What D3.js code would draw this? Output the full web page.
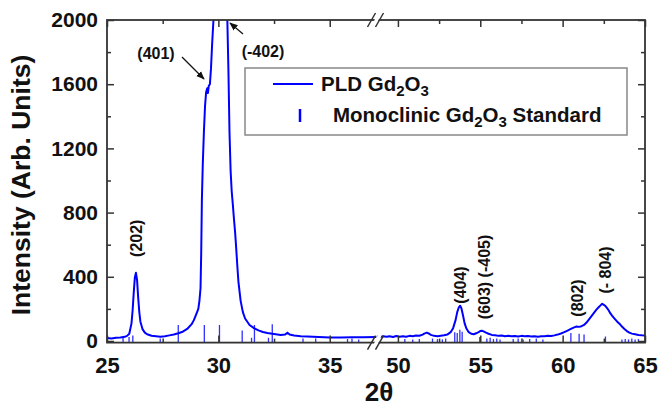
<!DOCTYPE html>
<html>
<head>
<meta charset="utf-8">
<script src="https://cdn.jsdelivr.net/npm/d3@7"></script>
<style>
  body { margin: 0; background: #fff; }
  text { font-family: "Liberation Sans", Arial, sans-serif; font-weight: bold; fill: #111; }
</style>
</head>
<body>
<div id="chart"></div>
<script>
// measured scan, left of the axis break: [2theta, counts]
var scanLeft = [
  [25.0,18],[25.2,15],[25.4,20],[25.6,22],[25.8,26],[25.9,32],[26.0,45],[26.1,110],[26.15,190],
  [26.2,300],[26.25,395],[26.3,425],[26.35,380],[26.4,270],[26.45,180],[26.5,120],[26.6,72],
  [26.7,52],[26.8,42],[27.0,33],[27.2,30],[27.4,27],[27.6,30],[27.8,35],[28.0,40],[28.2,48],
  [28.4,58],[28.6,75],[28.8,105],[28.9,130],[29.0,165],[29.1,200],[29.15,250],[29.2,330],
  [29.23,550],[29.26,880],[29.3,1100],[29.35,1300],[29.4,1460],[29.45,1550],[29.5,1575],
  [29.53,1545],[29.57,1590],[29.62,1600],[29.67,1700],[29.72,1850],[29.78,2000],[29.9,2300],
  [30.0,2500],[30.1,2550],[30.2,2450],[30.3,2250],[30.4,2020],[30.45,1700],[30.5,1300],
  [30.55,1060],[30.6,930],[30.65,850],[30.7,760],[30.75,680],[30.8,580],[30.85,470],[30.9,370],
  [31.0,250],[31.1,180],[31.2,140],[31.4,100],[31.6,80],[31.8,66],[32.0,56],[32.2,50],[32.5,44],
  [32.8,38],[33.0,40],[33.1,52],[33.2,40],[33.4,34],[33.7,30],[34.0,28],[34.5,25],[35.0,22],
  [35.5,22],[36.0,24],[36.5,23],[37.1,25]
];
// measured scan, right of the axis break
var scanRight = [
  [48.7,28],[48.9,24],[49.1,30],[49.3,26],[49.5,29],[49.7,25],[49.9,31],[50.1,27],[50.3,30],
  [50.5,26],[50.7,32],[50.9,29],[51.1,34],[51.3,33],[51.5,40],[51.6,46],[51.75,52],[51.9,45],
  [52.0,38],[52.2,32],[52.4,30],[52.6,33],[52.8,36],[53.0,40],[53.2,55],[53.35,80],[53.5,130],
  [53.6,180],[53.7,210],[53.78,220],[53.85,205],[53.95,160],[54.05,110],[54.15,80],[54.3,55],
  [54.45,45],[54.6,42],[54.75,48],[54.9,55],[55.0,62],[55.1,64],[55.2,60],[55.35,52],[55.5,45],
  [55.7,38],[55.9,36],[56.1,32],[56.3,34],[56.5,30],[56.7,33],[56.9,29],[57.1,31],[57.3,28],
  [57.5,32],[57.7,29],[57.9,31],[58.1,28],[58.3,30],[58.5,27],[58.7,30],[58.9,29],[59.1,32],
  [59.3,31],[59.5,35],[59.7,40],[59.9,47],[60.1,55],[60.3,65],[60.5,75],[60.7,85],[60.85,90],
  [61.0,88],[61.15,92],[61.3,100],[61.45,115],[61.6,135],[61.75,155],[61.9,175],[62.05,195],
  [62.2,212],[62.3,222],[62.4,232],[62.5,225],[62.6,218],[62.7,205],[62.8,190],[62.9,172],
  [63.0,158],[63.15,140],[63.3,122],[63.45,108],[63.6,90],[63.75,75],[63.9,62],[64.05,52],
  [64.2,46],[64.4,42],[64.6,38],[64.8,36],[65.0,35]
];
// monoclinic Gd2O3 reference lines: [2theta, relative height]
var standardLines = [
  [25.72,20],[25.99,25],[26.16,35],[27.39,15],[28.2,100],[29.37,100],[30.05,100],[31.07,65],
  [31.49,20],[31.62,100],[32.25,20],[32.42,105],[33.8,15],[34.37,15],[35.8,12],[36.0,15],[36.3,10],
  [50.42,12],[50.9,10],[51.3,12],[52.1,15],[52.4,12],[52.7,10],[52.9,15],[53.45,55],[53.6,50],
  [53.76,70],[53.9,58],[54.97,25],[55.4,15],[55.6,20],[55.8,12],[56.0,15],[56.2,10],[57.0,12],
  [57.3,15],[57.6,10],[58.0,12],[58.4,15],[58.8,10],[60.5,50],[61.0,45],[61.3,40],[62.6,28],
  [63.6,10],[63.8,12],[64.0,10],[64.2,15],[64.4,10],[64.6,12]
];
var xTicksLeft = [25, 30, 35];
var xTicksRight = [50, 55, 60, 65];
var xMinorLeft = [27.5, 32.5];
var xMinorRight = [52.5, 57.5, 62.5];
var yTicks = [0, 400, 800, 1200, 1600, 2000];
var yMinor = [200, 600, 1000, 1400, 1800];
var peakNames = ["(202)", "(404)", "(603) (-405)", "(802)", "(- 804)"];
var peakAngles = [26.3, 53.8, 55.27, 60.9, 62.6];

createGraph();

function createGraph() {
    var width = 659, height = 407;
    var left = 107, right = 645, top = 20, bottom = 342.6, breakX = 376.5;
    var blue = "#0000ff";

    var svg = d3.select("#chart").append("svg")
        .attr("width", width)
        .attr("height", height);

    var y = d3.scaleLinear().domain([-10, 2000]).range([bottom, top]);
    var xL = d3.scaleLinear().domain([25, 37.1]).range([left, breakX]);
    var xR = d3.scaleLinear().domain([48.7, 65]).range([breakX, right]);
    var xOf = function (v) { return v < 45 ? xL(v) : xR(v); };

    var defs = svg.append("defs");
    defs.append("clipPath").attr("id", "clipL").append("rect")
        .attr("x", left).attr("y", top).attr("width", breakX - left).attr("height", bottom - top);
    defs.append("clipPath").attr("id", "clipR").append("rect")
        .attr("x", breakX).attr("y", top).attr("width", right - breakX).attr("height", bottom - top);
    defs.append("marker").attr("id", "arrow")
        .attr("viewBox", "0 0 10 10").attr("refX", 9).attr("refY", 5)
        .attr("markerWidth", 7).attr("markerHeight", 7).attr("orient", "auto")
        .append("path").attr("d", "M0,1 L10,5 L0,9 z").attr("fill", "#111");

    // standard stick pattern
    svg.append("g").selectAll("line")
        .data(standardLines)
        .enter().append("line")
        .attr("x1", function (d) { return xOf(d[0]); })
        .attr("x2", function (d) { return xOf(d[0]); })
        .attr("y1", bottom)
        .attr("y2", function (d) { return y(d[1]); })
        .attr("stroke", "#3030ff")
        .attr("stroke-width", 1.3);

    // measured curve, one path each side of the break
    var lineL = d3.line().x(function (d) { return xL(d[0]); }).y(function (d) { return y(d[1]); });
    var lineR = d3.line().x(function (d) { return xR(d[0]); }).y(function (d) { return y(d[1]); });
    svg.append("path").datum(scanLeft).attr("d", lineL).attr("clip-path", "url(#clipL)")
        .attr("fill", "none").attr("stroke", blue).attr("stroke-width", 2).attr("stroke-linejoin", "round");
    svg.append("path").datum(scanRight).attr("d", lineR).attr("clip-path", "url(#clipR)")
        .attr("fill", "none").attr("stroke", blue).attr("stroke-width", 2).attr("stroke-linejoin", "round");

    // axes (all ticks inward)
    function styleAxis(g) {
        g.select(".domain").remove();
        g.selectAll(".tick line").attr("stroke", "#333").attr("stroke-width", 1.5);
    }
    svg.append("g").attr("transform", "translate(" + left + ",0)")
        .call(d3.axisLeft(y).tickValues(yTicks).tickSize(-7).tickPadding(9).tickFormat(d3.format("d")))
        .call(styleAxis)
        .selectAll("text").attr("font-size", 21).attr("font-family", null);
    svg.append("g").attr("transform", "translate(" + left + ",0)")
        .call(d3.axisLeft(y).tickValues(yMinor).tickSize(-4).tickFormat(""))
        .call(styleAxis);
    svg.append("g").attr("transform", "translate(" + right + ",0)")
        .call(d3.axisRight(y).tickValues(yTicks).tickSize(-7).tickFormat(""))
        .call(styleAxis);
    svg.append("g").attr("transform", "translate(" + right + ",0)")
        .call(d3.axisRight(y).tickValues(yMinor).tickSize(-4).tickFormat(""))
        .call(styleAxis);

    [[xL, xTicksLeft, xMinorLeft], [xR, xTicksRight, xMinorRight]].forEach(function (s) {
        svg.append("g").attr("transform", "translate(0," + bottom + ")")
            .call(d3.axisBottom(s[0]).tickValues(s[1]).tickSize(-7).tickPadding(15))
            .call(styleAxis)
            .selectAll("text").attr("font-size", 22).attr("font-family", null);
        svg.append("g").attr("transform", "translate(0," + bottom + ")")
            .call(d3.axisBottom(s[0]).tickValues(s[2]).tickSize(-4).tickFormat(""))
            .call(styleAxis);
        svg.append("g").attr("transform", "translate(0," + top + ")")
            .call(d3.axisTop(s[0]).tickValues(s[1]).tickSize(-7).tickFormat(""))
            .call(styleAxis);
        svg.append("g").attr("transform", "translate(0," + top + ")")
            .call(d3.axisTop(s[0]).tickValues(s[2]).tickSize(-4).tickFormat(""))
            .call(styleAxis);
    });
    svg.selectAll(".tick text").attr("fill", "#111");

    // frame
    var frame = svg.append("g").attr("stroke", "#333").attr("stroke-width", 1.8).attr("fill", "none");
    frame.append("rect").attr("x", left).attr("y", top).attr("width", right - left).attr("height", bottom - top);

    // axis break marks
    [top, bottom].forEach(function (ay) {
        svg.append("path")
            .attr("d", "M" + (breakX - 5) + "," + (ay + 7) + " L" + (breakX + 1) + "," + (ay - 7) +
                " L" + (breakX + 5) + "," + (ay - 7) + " L" + (breakX - 1) + "," + (ay + 7) + " z")
            .attr("fill", "#fff");
        [-4, 4].forEach(function (o) {
            svg.append("line")
                .attr("x1", breakX + o - 5).attr("y1", ay + 7)
                .attr("x2", breakX + o + 3).attr("y2", ay - 7)
                .attr("stroke", "#333").attr("stroke-width", 1.5);
        });
    });

    // axis titles
    svg.append("text")
        .attr("transform", "translate(30,185) rotate(-90)")
        .attr("text-anchor", "middle")
        .attr("font-size", 26.5)
        .text("Intensity (Arb. Units)");
    svg.append("text")
        .attr("x", 379).attr("y", 401)
        .attr("text-anchor", "middle")
        .attr("font-size", 26)
        .text("2\u03b8");

    // rotated peak labels
    var labelLevel = [640, 349, 399, 268, 442];
    svg.append("g").selectAll("text")
        .data(peakNames)
        .enter().append("text")
        .attr("transform", function (d, i) {
            return "translate(" + xOf(peakAngles[i]) + "," + y(labelLevel[i]) + ") rotate(-90)";
        })
        .attr("text-anchor", "middle")
        .attr("dy", "0.35em")
        .attr("font-size", 16)
        .text(function (d) { return d; });

    // arrowed labels for the main peak
    svg.append("text").attr("x", 156).attr("y", 59).attr("text-anchor", "middle")
        .attr("font-size", 16).text("(401)");
    svg.append("line").attr("x1", 182).attr("y1", 57).attr("x2", 204).attr("y2", 79)
        .attr("stroke", "#111").attr("stroke-width", 1.2).attr("marker-end", "url(#arrow)");
    svg.append("text").attr("x", 263).attr("y", 57).attr("text-anchor", "middle")
        .attr("font-size", 16).text("(-402)");
    svg.append("line").attr("x1", 243).attr("y1", 34).attr("x2", 230).attr("y2", 23)
        .attr("stroke", "#111").attr("stroke-width", 1.2).attr("marker-end", "url(#arrow)");

    // legend
    var legend = svg.append("g");
    legend.append("rect").attr("x", 245).attr("y", 68).attr("width", 382).attr("height", 67)
        .attr("fill", "#fff").attr("stroke", "#888").attr("stroke-width", 1.5);
    legend.append("line").attr("x1", 273).attr("x2", 313).attr("y1", 84).attr("y2", 84)
        .attr("stroke", blue).attr("stroke-width", 2);
    legend.append("line").attr("x1", 300).attr("x2", 300).attr("y1", 109).attr("y2", 122)
        .attr("stroke", blue).attr("stroke-width", 2.5);
    var t1 = legend.append("text").attr("x", 321).attr("y", 91).attr("font-size", 20.5);
    t1.append("tspan").text("PLD Gd");
    t1.append("tspan").attr("dy", 5).attr("font-size", 15).text("2");
    t1.append("tspan").attr("dy", -5).text("O");
    t1.append("tspan").attr("dy", 5).attr("font-size", 15).text("3");
    var t2 = legend.append("text").attr("x", 333).attr("y", 122).attr("font-size", 20.5);
    t2.append("tspan").text("Monoclinic Gd");
    t2.append("tspan").attr("dy", 5).attr("font-size", 15).text("2");
    t2.append("tspan").attr("dy", -5).text("O");
    t2.append("tspan").attr("dy", 5).attr("font-size", 15).text("3");
    t2.append("tspan").attr("dy", -5).text(" Standard");
}
</script>
</body>
</html>
